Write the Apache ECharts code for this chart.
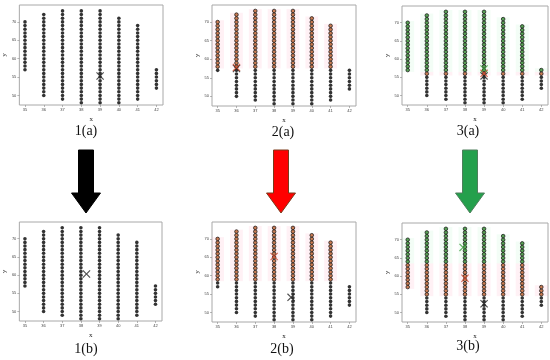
<!DOCTYPE html>
<html>
<head>
<meta charset="utf-8">
<script src="https://cdn.jsdelivr.net/npm/echarts@6/dist/echarts.min.js"></script>
<style>html,body{margin:0;padding:0;background:#fff;}#chart{width:550px;height:360px;}</style>
</head>
<body>
<div id="chart"></div>
<script>
// columns of points (x value, then the y values in that column)
const xCols = [35, 36, 37, 38, 39, 40, 41, 42];
const col35 = [57,58,59,60,61,62,63,64,65,66,67,68,69,70];
const col36 = [50,51,52,53,54,55,56,57,58,59,60,61,62,63,64,65,66,67,68,69,70,71,72];
const col37 = [49,50,51,52,53,54,55,56,57,58,59,60,61,62,63,64,65,66,67,68,69,70,71,72,73];
const col38 = [48,49,50,51,52,53,54,55,56,57,58,59,60,61,62,63,64,65,66,67,68,69,70,71,72,73];
const col39 = [48,49,50,51,52,53,54,55,56,57,58,59,60,61,62,63,64,65,66,67,68,69,70,71,72,73];
const col40 = [48,49,50,51,52,53,54,55,56,57,58,59,60,61,62,63,64,65,66,67,68,69,70,71];
const col41 = [49,50,51,52,53,54,55,56,57,58,59,60,61,62,63,64,65,66,67,68,69];
const col42 = [52,53,54,55,56,57];
const columns = [col35, col36, col37, col38, col39, col40, col41, col42];

const xTicks = [35, 36, 37, 38, 39, 40, 41, 42];
const yTicks = [50, 55, 60, 65, 70];

// panels: 1(a) 2(a) 3(a) 1(b) 2(b) 3(b)
const panelNames = ['1(a)', '2(a)', '3(a)', '1(b)', '2(b)', '3(b)'];
const greenFrom = [null, null, 57, null, null, 64];
const redFrom = [null, 58, 56, null, 59, 55];
const centBlack = [[39, 55.3], [36, 57.5], [39, 55.4], [38.3, 60.3], [38.9, 54.1], [39, 52.4]];
const centRed = [null, [36, 57.8], [39, 56.1], null, [38, 65.2], [38, 59.4]];
const centGreen = [null, null, [39, 57.3], null, null, [37.9, 67.9]];

const grids = [
  {left: 17, top: 5, width: 146, height: 100},
  {left: 212, top: 5, width: 144, height: 101},
  {left: 402, top: 6, width: 146, height: 99},
  {left: 18, top: 222, width: 144, height: 99},
  {left: 212, top: 222, width: 144, height: 100},
  {left: 402, top: 223, width: 146, height: 99}
];
const labelPos = [[86, 131], [283, 132], [468, 131], [86, 349], [282, 349], [468, 346]];

const crossPath = 'path://M0,1L1,0L5,4L9,0L10,1L6,5L10,9L9,10L5,6L1,10L0,9L4,5Z';

function clusterOf(p, y) {
  if (greenFrom[p] != null && y >= greenFrom[p]) return 'g';
  if (redFrom[p] != null && y >= redFrom[p]) return 'r';
  return 'k';
}

function bands(p, c) {
  const out = [];
  xCols.forEach((x, i) => {
    const ys = columns[i].filter(y => clusterOf(p, y) === c);
    if (!ys.length) return;
    out.push([{coord: [x - 0.34, Math.min(...ys) - 0.5]}, {coord: [x + 0.34, Math.max(...ys) + 0.5]}]);
  });
  return out;
}

const xAxis = [], yAxis = [], series = [];
grids.forEach((g, p) => {
  xAxis.push({
    type: 'value', gridIndex: p, min: 34.7, max: 42.35,
    name: 'x', nameLocation: 'middle', nameGap: 11,
    nameTextStyle: {fontFamily: 'Liberation Serif', fontSize: 7, color: '#222'},
    axisLine: {show: false}, splitLine: {show: false},
    axisTick: {show: true, length: 2, lineStyle: {color: '#888', width: 0.6}, customValues: xTicks},
    axisLabel: {fontSize: 4, color: '#444', margin: 3, customValues: xTicks}
  });
  yAxis.push({
    type: 'value', gridIndex: p, min: 47.4, max: 74.6,
    name: 'y', nameLocation: 'middle', nameGap: 10, nameRotate: 90,
    nameTextStyle: {fontFamily: 'Liberation Serif', fontSize: 7, color: '#222'},
    axisLine: {show: false}, splitLine: {show: false},
    axisTick: {show: true, length: 2, lineStyle: {color: '#888', width: 0.6}, customValues: yTicks},
    axisLabel: {fontSize: 4, color: '#444', margin: 3, customValues: yTicks}
  });
  const pts = {k: [], r: [], g: []};
  xCols.forEach((x, i) => columns[i].forEach(y => pts[clusterOf(p, y)].push([x, y])));
  series.push({
    type: 'scatter', xAxisIndex: p, yAxisIndex: p, data: pts.g, symbolSize: 3.6, z: 3,
    itemStyle: {color: '#2f8a2c', borderColor: '#111', borderWidth: 0.9},
    markArea: {silent: true, itemStyle: {color: 'rgba(120,230,160,0.09)'}, data: bands(p, 'g')}
  });
  series.push({
    type: 'scatter', xAxisIndex: p, yAxisIndex: p, data: pts.r, symbolSize: 3.6, z: 3,
    itemStyle: {color: '#bd5f2c', borderColor: '#111', borderWidth: 0.9},
    markArea: {silent: true, itemStyle: {color: 'rgba(255,170,195,0.16)'}, data: bands(p, 'r')}
  });
  series.push({
    type: 'scatter', xAxisIndex: p, yAxisIndex: p, data: pts.k, symbolSize: 3.6, z: 3,
    itemStyle: {color: '#000'}
  });
  const cents = [[centBlack[p], '#222'], [centRed[p], '#c8452a'], [centGreen[p], '#3d9a3d']];
  cents.forEach(([c, col]) => {
    if (!c) return;
    series.push({
      type: 'scatter', xAxisIndex: p, yAxisIndex: p, data: [c], symbol: crossPath, symbolSize: 8, z: 4,
      itemStyle: {color: col}
    });
  });
});

function arrow(cx, fill, stroke) {
  return {
    type: 'polygon', z: 10,
    shape: {points: [[cx - 7.5, 150], [cx + 7.5, 150], [cx + 7.5, 193], [cx + 14.5, 193], [cx, 213], [cx - 14.5, 193], [cx - 7.5, 193]]},
    style: {fill: fill, stroke: stroke, lineWidth: 1}
  };
}

const graphic = [arrow(86, '#000', '#000'), arrow(281, '#ff0000', '#7a3a1a'), arrow(470, '#24a04c', '#4f7f5c')];
panelNames.forEach((t, p) => {
  graphic.push({
    type: 'text', x: labelPos[p][0], y: labelPos[p][1], z: 10,
    style: {text: t, font: '14px "Liberation Serif"', fill: '#111', textAlign: 'center', textVerticalAlign: 'middle'}
  });
});

const chart = echarts.init(document.getElementById('chart'), null, {renderer: 'canvas'});
chart.setOption({
  animation: false,
  backgroundColor: '#fff',
  grid: grids.map(g => Object.assign({show: true, borderColor: '#a8a8a8', borderWidth: 1, backgroundColor: '#fff'}, g)),
  xAxis: xAxis,
  yAxis: yAxis,
  series: series,
  graphic: graphic
});
</script>
</body>
</html>
